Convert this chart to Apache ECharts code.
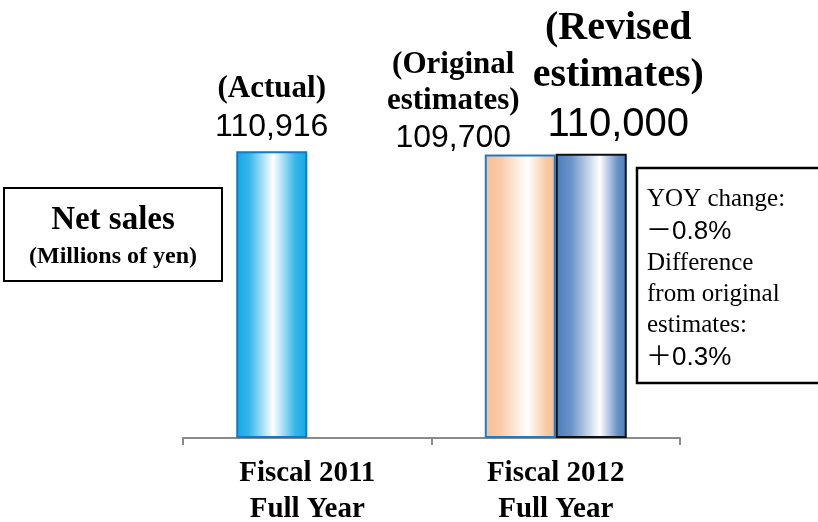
<!DOCTYPE html>
<html>
<head>
<meta charset="utf-8">
<style>
  html, body { margin: 0; padding: 0; background: #fff; }
  #chart { width: 818px; height: 522px; }
</style>
<script src="https://cdn.jsdelivr.net/npm/echarts@6/dist/echarts.min.js"></script>
</head>
<body>
<div id="chart"></div>
<script>
// Net sales, millions of yen
const categories = ['Fiscal 2011\nFull Year', 'Fiscal 2012\nFull Year'];
const actualOrOriginal = [110916, 109700];   // FY2011 actual, FY2012 original estimate
const revisedEstimate = [null, 110000];      // FY2012 revised estimate
const actualOrOriginalNotes = ['(Actual)', '(Original\nestimates)'];
const revisedNotes = [null, '(Revised\nestimates)'];
const yoyChange = '－0.8%';
const diffFromOriginal = '＋0.3%';

const serif = '"Liberation Serif", "Times New Roman", serif';
const numFont = '"Liberation Sans", Arial, sans-serif';
const sans = '"Liberation Sans", "Noto Sans CJK JP", sans-serif';

// Horizontal "cylinder" shading: solid edges fading to a white highlight
function grad(edge, inner, midPos) {
  return new echarts.graphic.LinearGradient(0, 0, 1, 0, [
    { offset: 0, color: edge },
    { offset: midPos * 0.35, color: inner },
    { offset: midPos, color: '#FFFFFF' },
    { offset: 1 - (1 - midPos) * 0.35, color: inner },
    { offset: 1, color: edge }
  ]);
}

const fmt = v => Number(v).toLocaleString('en-US');

const styleA = [
  { color: grad('#14A8E5', '#35B6EA', 0.52), borderColor: '#1677C6', borderWidth: 2 },
  { color: grad('#F7BE92', '#F9CAA6', 0.6), borderColor: '#1E7BCB', borderWidth: 2 }
];
const labelOffsetA = [[0, -1], [-67, 7]];

const dataA = actualOrOriginal.map((v, i) => ({
  value: v,
  itemStyle: styleA[i],
  label: { offset: labelOffsetA[i] }
}));
const dataB = revisedEstimate.map(v => v == null ? null : ({
  value: v,
  itemStyle: { color: grad('#4A7BBB', '#6A93C8', 0.62), borderColor: '#111', borderWidth: 2 },
  label: { offset: [27, 2] }
}));

const chart = echarts.init(document.getElementById('chart'), null, { renderer: 'canvas' });

chart.setOption({
  animation: false,
  grid: { left: 183, right: 138, top: 40, bottom: 84, outerBoundsMode: 'none', containLabel: false },
  xAxis: {
    type: 'category',
    data: categories,
    boundaryGap: true,
    axisLine: { show: true, lineStyle: { color: '#8a8a8a', width: 2 } },
    axisTick: { show: true, length: 7, lineStyle: { color: '#8a8a8a', width: 2 } },
    axisLabel: {
      margin: 18,
      color: '#000',
      fontFamily: serif,
      fontWeight: 'bold',
      fontSize: 29,
      lineHeight: 36
    }
  },
  yAxis: { type: 'value', min: 0, max: 154000, show: false, splitLine: { show: false } },
  series: [
    {
      type: 'bar',
      data: dataA,
      barWidth: 71,
      barGap: '0%',
      label: {
        show: true,
        position: 'top',
        distance: 3,
        align: 'center',
        formatter: p => '{t|' + actualOrOriginalNotes[p.dataIndex].split('\n').join('}\n{t|') + '}\n{v|' + fmt(p.value) + '}',
        rich: {
          t: { fontFamily: serif, fontWeight: 'bold', fontSize: 31, lineHeight: 36, color: '#000', align: 'center' },
          v: { fontFamily: numFont, fontSize: 32, lineHeight: 40, color: '#000', align: 'center' }
        }
      }
    },
    {
      type: 'bar',
      data: dataB,
      barWidth: 71,
      barGap: '0%',
      label: {
        show: true,
        position: 'top',
        distance: 5,
        align: 'center',
        formatter: p => '{t|' + revisedNotes[p.dataIndex].split('\n').join('}\n{t|') + '}\n{v|' + fmt(p.value) + '}',
        rich: {
          t: { fontFamily: serif, fontWeight: 'bold', fontSize: 40, lineHeight: 47, color: '#000', align: 'center' },
          v: { fontFamily: numFont, fontSize: 40, lineHeight: 52, color: '#000', align: 'center' }
        }
      }
    }
  ],
  graphic: [
    // Unit caption box on the left
    { type: 'rect', shape: { x: 4, y: 188, width: 218, height: 93 },
      style: { fill: '#fff', stroke: '#000', lineWidth: 2 } },
    { type: 'text', x: 113, y: 220,
      style: { text: 'Net sales', font: 'bold 33px ' + serif, fill: '#000', align: 'center', verticalAlign: 'middle' } },
    { type: 'text', x: 113, y: 257,
      style: { text: '(Millions of yen)', font: 'bold 24px ' + serif, fill: '#000', align: 'center', verticalAlign: 'middle' } },
    // Change summary box on the right
    { type: 'rect', shape: { x: 637, y: 168, width: 200, height: 215 },
      style: { fill: '#fff', stroke: '#000', lineWidth: 2.5 } },
    { type: 'text', x: 647, y: 199, style: { text: 'YOY change:', font: '25px ' + serif, fill: '#000', verticalAlign: 'middle' } },
    { type: 'text', x: 646, y: 232, style: { text: yoyChange, font: '26px ' + sans, fill: '#000', verticalAlign: 'middle' } },
    { type: 'text', x: 647, y: 263, style: { text: 'Difference', font: '25px ' + serif, fill: '#000', verticalAlign: 'middle' } },
    { type: 'text', x: 647, y: 294, style: { text: 'from original', font: '25px ' + serif, fill: '#000', verticalAlign: 'middle' } },
    { type: 'text', x: 647, y: 325, style: { text: 'estimates:', font: '25px ' + serif, fill: '#000', verticalAlign: 'middle' } },
    { type: 'text', x: 646, y: 358, style: { text: diffFromOriginal, font: '26px ' + sans, fill: '#000', verticalAlign: 'middle' } }
  ]
});
</script>
</body>
</html>
